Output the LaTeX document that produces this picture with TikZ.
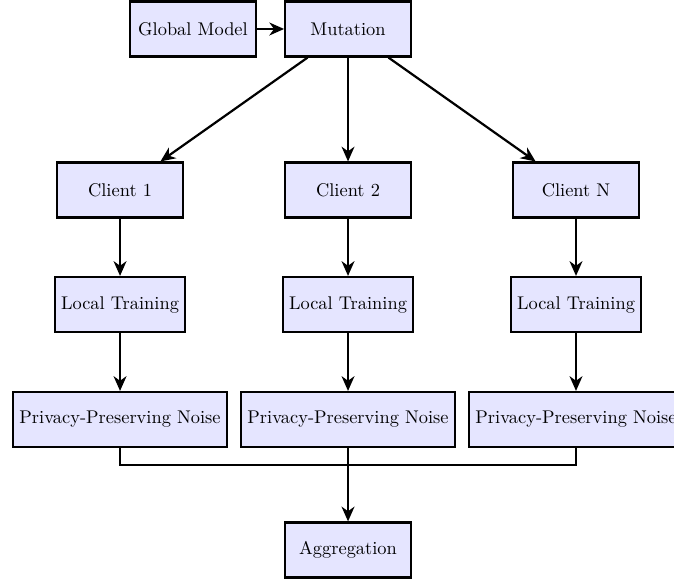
\documentclass[tikz,border=0pt]{standalone}
\usetikzlibrary{shapes,arrows,arrows.meta,positioning,calc}

\begin{document}
\begin{tikzpicture}[
	box/.style={draw=black, very thick, fill=blue!10, minimum width=2.4cm, minimum height=1.05cm, align=center},
	flow/.style={-{Stealth[length=8pt,width=7pt,inset=2.5pt]}, very thick, color=black}
	]
	%Definitions - rows and columns of the diagram%
	%===========================================================
	\def \Xmid {6.648}; %Centre column (mutation, client 2, aggregation)
	\def \Dx {4.355}; %Distance between the client columns
	\def \Ytop {10.621}; %Row of global model and mutation
	\def \Yclient {7.545}; %Row of the clients
	\def \Ytrain {5.358}; %Row of local training
	\def \Ynoise {3.161}; %Row of the noise boxes
	\def \Ymerge {2.292}; %Height of the collecting line
	\def \Yagg {0.669}; %Row of the aggregation
	\useasboundingbox (0,0) rectangle (12.875,11.175);
	%Top row%
	%===========================================================
	\node[box] (global) at (3.687,\Ytop) {Global Model}; %Start model
	\node[box] (mutation) at (\Xmid,\Ytop) {Mutation}; %Mutated model
	\draw[flow] (global) -- (mutation);
	%Clients%
	%===========================================================
	\node[box] (client1) at (\Xmid-\Dx,\Yclient) {Client 1};
	\node[box] (client2) at (\Xmid,\Yclient) {Client 2};
	\node[box] (clientN) at (\Xmid+\Dx,\Yclient) {Client N};
	\draw[flow] (mutation) -- (client1);
	\draw[flow] (mutation) -- (client2);
	\draw[flow] (mutation) -- (clientN);
	%Local training%
	\node[box] (train1) at (\Xmid-\Dx,\Ytrain) {Local Training};
	\node[box] (train2) at (\Xmid,\Ytrain) {Local Training};
	\node[box] (trainN) at (\Xmid+\Dx,\Ytrain) {Local Training};
	\draw[flow] (client1) -- (train1);
	\draw[flow] (client2) -- (train2);
	\draw[flow] (clientN) -- (trainN);
	%Noise added before sending%
	\node[box] (noise1) at (\Xmid-\Dx,\Ynoise) {Privacy-Preserving Noise};
	\node[box] (noise2) at (\Xmid,\Ynoise) {Privacy-Preserving Noise};
	\node[box] (noiseN) at (\Xmid+\Dx,\Ynoise) {Privacy-Preserving Noise};
	\draw[flow] (train1) -- (noise1);
	\draw[flow] (train2) -- (noise2);
	\draw[flow] (trainN) -- (noiseN);
	%Aggregation%
	%===========================================================
	\coordinate (merge) at (\Xmid,\Ymerge); %Meeting point of the updates
	\node[box] (aggregation) at (\Xmid,\Yagg) {Aggregation};
	\draw[color=black, semithick] (noise1.south) |- (merge) -| (noiseN.south); %Collecting line
	\draw[color=black, semithick] (noise2.south) -- (merge);
	\draw[flow] (merge) -- (aggregation);
\end{tikzpicture}
\end{document}
